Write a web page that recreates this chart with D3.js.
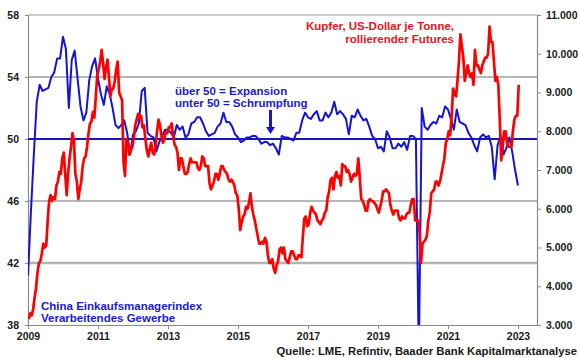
<!DOCTYPE html>
<html><head><meta charset="utf-8">
<script src="https://cdn.jsdelivr.net/npm/d3@7"></script>
<style>
body{margin:0;background:#fff}
svg{display:block;font-family:"Liberation Sans",Arial,sans-serif;font-weight:bold}
</style>
</head><body><svg id="c" width="580" height="358"></svg>
<script>
// China official manufacturing PMI, month-end values from Dec 2008 to Dec 2022
const pmiFirstMonth = 2009.0; // Dec 2008 plotted at month end
const pmi2008 = [41.2];
const pmi2009 = [45.3,49.0,52.4,53.5,53.1,53.2,53.3,54.0,54.3,55.2,55.2,56.6];
const pmi2010 = [55.8,52.0,55.1,55.7,53.9,52.1,51.2,51.7,53.8,54.7,55.2,53.9];
const pmi2011 = [52.9,52.2,53.4,52.9,52.0,50.9,50.7,50.9,51.2,50.4,49.0,50.3];
const pmi2012 = [50.5,51.0,53.1,53.3,50.4,50.2,50.1,49.2,49.8,50.2,50.6,50.6];
const pmi2013 = [50.4,50.1,50.9,50.6,50.8,50.1,50.3,51.0,51.1,51.4,51.4,51.0];
const pmi2014 = [50.5,50.2,50.3,50.4,50.8,51.0,51.7,51.1,51.1,50.8,50.3,50.1];
const pmi2015 = [49.8,49.9,50.1,50.1,50.2,50.2,50.0,49.7,49.8,49.8,49.6,49.7];
const pmi2016 = [49.4,49.0,50.2,50.1,50.1,50.0,49.9,50.4,50.4,51.2,51.7,51.4];
const pmi2017 = [51.3,51.6,51.8,51.2,51.2,51.7,51.4,51.7,52.4,51.6,51.8,51.6];
const pmi2018 = [51.3,50.3,51.5,51.4,51.9,51.5,51.2,51.3,50.8,50.2,50.0,49.4];
const pmi2019 = [49.5,49.2,50.5,50.1,49.4,49.4,49.7,49.5,49.8,49.3,50.2,50.2];
const pmi2020 = [50.0,35.7,52.0,50.8,50.6,50.9,51.1,51.0,51.5,51.4,52.1,51.9];
const pmi2021 = [51.3,50.6,51.9,51.1,51.0,50.9,50.4,50.1,49.6,49.2,50.1,50.3];
const pmi2022 = [50.1,50.2,49.5,47.4,49.6,50.2,49.0,49.4,50.1,49.2,48.0,47.0];

// Copper, USD per tonne, rolling futures, half-month readings
const copperFirstYear = 2009;
const copper2009 = [3150,3300,3250,3400,3700,3950,4350,4600,4650,4850,5100,5000,5050,5700,6200,6350,6200,6300,6250,6600,6700,6950,6900,7300];
const copper2010 = [7450,6900,6350,6900,7300,7600,7950,7750,6900,6700,6250,6500,6700,7100,7300,7350,7600,7950,8200,8250,8500,8350,8900,9450];
const copper2011 = [9600,9800,10100,9750,9350,9650,9850,9400,8900,9100,9100,9300,9600,9800,9000,8900,8800,7200,6850,7800,7700,7400,7500,7600];
const copper2012 = [7800,8150,8300,8450,8350,8400,8100,8150,7800,7500,7350,7550,7700,7450,7400,7600,8000,8300,8150,7900,7700,7800,8000,7950];
const copper2013 = [8100,8100,8200,7900,7650,7600,7450,7000,7300,7300,7100,6900,6900,6950,7150,7300,7200,7200,7200,7200,7050,7000,7100,7350];
const copper2014 = [7300,7100,7100,7100,6650,6500,6600,6700,6900,6900,6750,6900,7100,7100,7000,6950,6900,6750,6700,6750,6700,6600,6400,6350];
const copper2015 = [6000,5450,5650,5800,5850,6050,6000,6150,6400,6050,5850,5700,5500,5300,5100,5100,5150,5100,5250,5150,4800,4600,4600,4700];
const copper2016 = [4450,4350,4550,4650,4950,5000,4850,5000,4700,4650,4600,4750,4900,4900,4800,4700,4700,4800,4800,4750,5300,5750,5800,5550];
const copper2017 = [5600,5900,6050,5950,5900,5850,5700,5650,5600,5700,5750,5900,5950,6300,6450,6750,6800,6500,6850,6950,6800,6850,6600,7150];
const copper2018 = [7100,7100,6950,7000,6900,6700,6800,6900,6850,6900,7300,6800,6250,6200,6100,5950,5950,6200,6250,6200,6200,6150,6100,6000];
const copper2019 = [5900,6050,6200,6450,6450,6500,6450,6400,6100,5950,5850,5950,5950,5950,5750,5700,5800,5750,5750,5850,5900,5900,6100,6250];
const copper2020 = [6250,5700,5700,5700,5400,4600,5100,5150,5200,5300,5700,5900,6400,6450,6500,6700,6700,6600,6700,6900,7100,7300,7700,7800];
const copper2021 = [8000,7900,8400,9100,9000,8900,9300,9800,10500,10200,9900,9300,9500,9700,9500,9400,9500,9200,10100,9700,9700,9600,9500,9700];
const copper2022 = [9800,9900,9900,10000,10700,10300,10300,9800,9300,9400,9200,8300,7250,7600,8000,8000,7700,7600,7600,7600,8000,8300,8400,8400];
const copper2023 = [9200];

const leftTicks = [38,42,46,50,54,58];
const rightTicks = [3000,4000,5000,6000,7000,8000,9000,10000,11000];
const yearTicks = [2009,2011,2013,2015,2017,2019,2021,2023];
const thresholdValue = 50;

const pmiValues = [].concat(pmi2008,pmi2009,pmi2010,pmi2011,pmi2012,pmi2013,pmi2014,pmi2015,pmi2016,pmi2017,pmi2018,pmi2019,pmi2020,pmi2021,pmi2022);
const pmi = pmiValues.map((v,i)=>({t: pmiFirstMonth + i/12, v}));
const copperValues = [].concat(copper2009,copper2010,copper2011,copper2012,copper2013,copper2014,copper2015,copper2016,copper2017,copper2018,copper2019,copper2020,copper2021,copper2022,copper2023);
const copper = copperValues.map((v,i)=>({t: copperFirstYear + (i+0.5)/24, v}));

const L = 28, R = 537, T = 15, B = 325;
const svg = d3.select('#c');
const x = d3.scaleLinear().domain([2009, 2023.543]).range([L, R]);
const yL = d3.scaleLinear().domain([38, 58]).range([B, T]);
const yR = d3.scaleLinear().domain([3000, 11000]).range([B, T]);
const de = d3.formatLocale({decimal:",", thousands:".", grouping:[3], currency:["","€"]});

svg.append('defs').append('clipPath').attr('id','clip')
  .append('rect').attr('x',L).attr('y',T).attr('width',R-L).attr('height',B-T);

// gridlines
const grid = svg.append('g');
grid.append('line').attr('x1',L).attr('x2',R).attr('y1',yL(58)).attr('y2',yL(58)).attr('stroke','#bdbdbd').attr('stroke-width',1.5);
[54,46].forEach(v=>grid.append('line').attr('x1',L).attr('x2',R).attr('y1',yL(v)).attr('y2',yL(v)).attr('stroke','#6e6e6e').attr('stroke-width',1));
grid.append('line').attr('x1',L).attr('x2',R).attr('y1',yL(42)).attr('y2',yL(42)).attr('stroke','#b3b3b3').attr('stroke-width',2.5);

// axes
const axisColor = '#8a8a8a';
const gL = svg.append('g').attr('transform',`translate(${L},0)`)
  .call(d3.axisLeft(yL).tickValues(leftTicks).tickSize(3).tickSizeOuter(0).tickPadding(6));
const gR = svg.append('g').attr('transform',`translate(${R},0)`)
  .call(d3.axisRight(yR).tickValues(rightTicks).tickSize(4).tickSizeOuter(0).tickPadding(5).tickFormat(de.format(',')));
const gB = svg.append('g').attr('transform',`translate(0,${B})`)
  .call(d3.axisBottom(x).tickValues(yearTicks).tickSize(4).tickSizeOuter(0).tickPadding(4).tickFormat(d3.format('d')));
[gL,gR,gB].forEach(g=>{
  g.select('.domain').attr('stroke',axisColor).attr('stroke-width',1.2);
  g.selectAll('.tick line').attr('stroke',axisColor);
  g.selectAll('.tick text').attr('fill','#1a1a1a').attr('font-size',10.5).attr('font-weight','bold').attr('font-family','"Liberation Sans",Arial,sans-serif');
});

// threshold line
svg.append('line').attr('x1',L).attr('x2',R).attr('y1',yL(thresholdValue)).attr('y2',yL(thresholdValue))
  .attr('stroke','#1818b4').attr('stroke-width',2.2);

const plot = svg.append('g').attr('clip-path','url(#clip)');
plot.append('path').datum(pmi)
  .attr('d', d3.line().x(d=>x(d.t)).y(d=>yL(d.v)))
  .attr('fill','none').attr('stroke','#1414d2').attr('stroke-width',2).attr('stroke-linejoin','round');
plot.append('path').datum(copper)
  .attr('d', d3.line().x(d=>x(d.t)).y(d=>yR(d.v)))
  .attr('fill','none').attr('stroke','#ff0000').attr('stroke-width',2.7).attr('stroke-linejoin','round');

// annotations
const blueText = '#1a1ad2', redText = '#e8141e';
function txt(s, xx, yy, col, anchor, size){
  svg.append('text').attr('x',xx).attr('y',yy).attr('fill',col).attr('text-anchor',anchor||'start')
    .attr('font-size',size||11).attr('font-weight','bold').text(s);
}
txt('Kupfer, US-Dollar je Tonne,', 454, 30, redText, 'end', 11.5);
txt('rollierender Futures', 454, 43, redText, 'end', 11.5);
txt('über 50 = Expansion', 175, 95, blueText, 'start', 11.5);
txt('unter 50 = Schrumpfung', 175, 107, blueText, 'start', 11.5);
txt('China Einkaufsmanagerindex', 41, 310, blueText, 'start', 11.5);
txt('Verarbeitendes Gewerbe', 41, 322, blueText, 'start', 11.5);
txt('Quelle: LME, Refintiv, Baader Bank Kapitalmarktanalyse', 577, 355, '#1a1a1a', 'end', 11.3);

// arrow
const ax = 270.5;
svg.append('line').attr('x1',ax).attr('x2',ax).attr('y1',110).attr('y2',128).attr('stroke','#1414d2').attr('stroke-width',3);
svg.append('path').attr('d',`M${ax-4.5},127 L${ax+4.5},127 L${ax},134 Z`).attr('fill','#1414d2');
</script>
</body></html>
